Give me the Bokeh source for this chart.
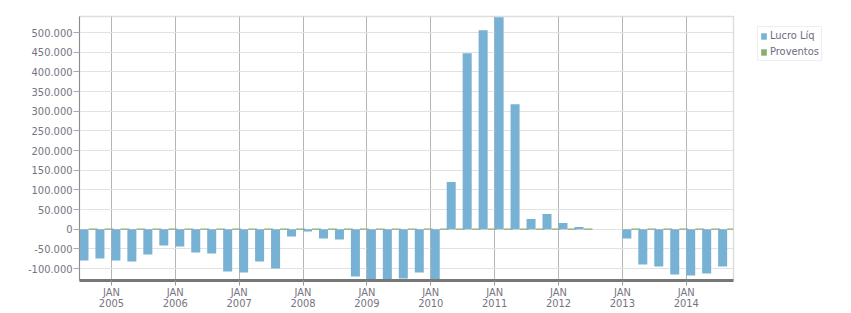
from bokeh.plotting import figure
from bokeh.layouts import row
from bokeh.models import ColumnDataSource, Range1d, FixedTicker, Legend, LegendItem
from bokeh.embed import file_html
from bokeh.resources import INLINE

# ---- data ----
quarters = [
    "2004Q3", "2004Q4",
    "2005Q1", "2005Q2", "2005Q3", "2005Q4",
    "2006Q1", "2006Q2", "2006Q3", "2006Q4",
    "2007Q1", "2007Q2", "2007Q3", "2007Q4",
    "2008Q1", "2008Q2", "2008Q3", "2008Q4",
    "2009Q1", "2009Q2", "2009Q3", "2009Q4",
    "2010Q1", "2010Q2", "2010Q3", "2010Q4",
    "2011Q1", "2011Q2", "2011Q3", "2011Q4",
    "2012Q1", "2012Q2", "2012Q3", "2012Q4",
    "2013Q1", "2013Q2", "2013Q3", "2013Q4",
    "2014Q1", "2014Q2", "2014Q3",
]
NA = float("nan")
lucro_liq = [
    -79700, -74600,
    -79700, -82200, -64500, -41600,
    -44200, -59400, -61900, -107600,
    -110200, -82200, -100000, -18800,
    -6100, -23900, -26400, -120300,
    -145000, -150000, -125400, -110200,
    -140000, 120000, 447500, 505800,
    538800, 318000, 26100, 38800,
    16000, 5800, NA, NA,
    -23900, -89800, -94900, -115200,
    -117700, -112700, -94900,
]
proventos = [
    0, 0,
    0, 0, 0, 0,
    0, 0, 0, 0,
    0, 0, 0, 0,
    0, 0, 0, 0,
    0, 0, 0, 0,
    0, 0, 0, 0,
    0, 0, 0, 0,
    0, 0, NA, NA,
    0, 0, 0, 0,
    0, 0, 0,
]
x_tick_years = [2005, 2006, 2007, 2008, 2009, 2010, 2011, 2012, 2013, 2014]
x_tick_labels = ["JAN\n%d" % y for y in x_tick_years]
y_ticks = [-100000, -50000, 0, 50000, 100000, 150000, 200000, 250000,
           300000, 350000, 400000, 450000, 500000]
y_tick_labels = ["{:,}".format(v).replace(",", ".") for v in y_ticks]
series_names = ["Lucro Líq", "Proventos"]

# ---- style ----
FONT = "DejaVu Sans Condensed"
TXT = "#77737f"
BLUE = "#77b1d3"
GREEN = "#88ae6b"
BAR_W = 0.141          # bar width in years
OFF_L = 0.070          # offset of Lucro bar from quarter start
OFF_P = 0.211          # offset of Proventos bar from quarter start

qstart = [int(q[:4]) + (int(q[5]) - 1) / 4.0 for q in quarters]
src = ColumnDataSource(dict(
    xl=[x + OFF_L for x in qstart],
    xp=[x + OFF_P for x in qstart],
    lucro=lucro_liq,
    prov=proventos,
))

p = figure(width=745, height=313, output_backend="svg", toolbar_location=None,
           x_range=Range1d(2004.5, 2014.74), y_range=Range1d(-130500, 541000),
           min_border_left=79, min_border_right=12, min_border_top=16,
           min_border_bottom=32)
p.background_fill_color = "white"
p.border_fill_color = "white"
p.outline_line_color = "#dddddd"
p.outline_line_width = 1.5

# grids
p.xgrid.ticker = FixedTicker(ticks=x_tick_years)
p.xgrid.grid_line_color = "#b5b5b5"
p.xgrid.grid_line_width = 1
p.ygrid.ticker = FixedTicker(ticks=y_ticks)
p.ygrid.grid_line_color = "#e2e2e2"
p.ygrid.grid_line_width = 1.2

# axes
xa = p.xaxis[0]
xa.ticker = FixedTicker(ticks=x_tick_years)
xa.major_label_overrides = dict(zip(x_tick_years, x_tick_labels))
xa.axis_line_color = "#777777"
xa.axis_line_width = 3
xa.major_tick_out = 5
xa.major_tick_in = 0
xa.major_tick_line_color = "#999999"
xa.minor_tick_line_color = None
xa.major_label_text_font = FONT
xa.major_label_text_font_size = "11px"
xa.major_label_text_color = TXT
xa.major_label_text_line_height = 0.9
xa.major_label_standoff = 0

ya = p.yaxis[0]
ya.ticker = FixedTicker(ticks=y_ticks)
ya.major_label_overrides = dict(zip(y_ticks, y_tick_labels))
ya.axis_line_color = "#8c8c8c"
ya.axis_line_width = 1
ya.major_tick_out = 6
ya.major_tick_in = 0
ya.major_tick_line_color = "#aaaaaa"
ya.minor_tick_line_color = None
ya.major_label_text_font = FONT
ya.major_label_text_font_size = "11px"
ya.major_label_text_color = TXT
ya.major_label_standoff = 1

# bars
rp = p.vbar(x="xp", top="prov", bottom=0, width=BAR_W, source=src,
            fill_color=GREEN, line_color=GREEN, line_width=1.2)
rl = p.vbar(x="xl", top="lucro", bottom=0, width=BAR_W, source=src,
            fill_color=BLUE, line_color=None)

# legend panel (separate small figure to the right of the chart);
# its swatch renderers sit outside the visible range
pl = figure(width=106, height=313, output_backend="svg", toolbar_location=None,
            x_range=Range1d(0, 1), y_range=Range1d(0, 1),
            x_axis_location=None, y_axis_location=None,
            min_border_left=0, min_border_right=0, min_border_top=0,
            min_border_bottom=0)
pl.outline_line_color = None
pl.xgrid.visible = False
pl.ygrid.visible = False
pl.border_fill_color = "white"
gl = pl.vbar(x=[5], top=[6], bottom=[5], width=0.1, fill_color=BLUE, line_color=None)
gp = pl.vbar(x=[5], top=[6], bottom=[5], width=0.1, fill_color=GREEN, line_color=None)

legend = Legend(items=[LegendItem(label=series_names[0], renderers=[gl]),
                       LegendItem(label=series_names[1], renderers=[gp])],
                location=(12, 219), orientation="vertical")
legend.margin = 0
legend.padding = 2
legend.spacing = 3
legend.label_height = 12
legend.glyph_height = 8
legend.glyph_width = 7
legend.label_standoff = 3
legend.label_text_font = FONT
legend.label_text_font_size = "11px"
legend.label_text_color = "#6f6a7f"
legend.border_line_color = "#dddddd"
legend.border_line_width = 1.2
legend.background_fill_color = "white"
pl.add_layout(legend, "center")

layout = row(p, pl)
open("out.html", "w").write(file_html(layout, INLINE))
